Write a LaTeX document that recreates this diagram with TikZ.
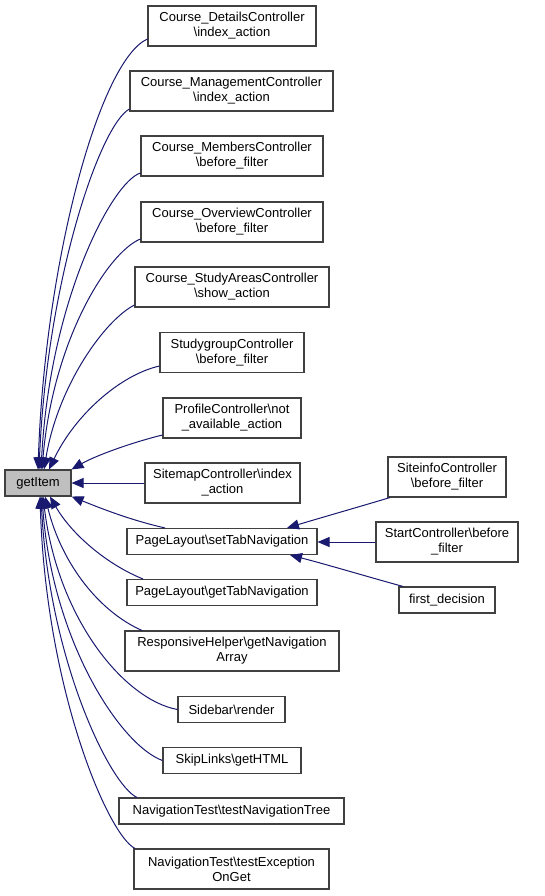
\documentclass[tikz,border=0pt]{standalone}
\usepackage{fontspec}
\setmainfont{Liberation Sans}
\usetikzlibrary{arrows.meta}
\definecolor{edgeblue}{HTML}{191970}
\definecolor{boxline}{HTML}{404040}
\definecolor{hlfill}{HTML}{BFBFBF}
\newcommand{\bs}{\textbackslash}
\begin{document}
\begin{tikzpicture}[x=1pt,y=-1pt,
  fnbox/.style={draw=boxline,line width=1.1pt,rectangle,inner sep=0pt,align=center,
    font=\fontsize{13}{15}\selectfont,fill=white},
  hlbox/.style={fnbox,fill=hlfill},
  edge/.style={draw=edgeblue,line width=1pt,-{Triangle[length=12pt,width=10pt]}}]
\useasboundingbox (0,0) rectangle (544,896);
\fill[white] (0,0) rectangle (544,896);
% nodes
\node[hlbox,minimum width=66pt,minimum height=26pt] (gi) at (38,483) {getItem};
\node[fnbox,minimum width=168pt,minimum height=40pt] (d1) at (232,26) {Course\_DetailsController\\\bs index\_action};
\node[fnbox,minimum width=203pt,minimum height=40pt] (d2) at (231.5,91) {Course\_ManagementController\\\bs index\_action};
\node[fnbox,minimum width=182pt,minimum height=40pt] (d3) at (232,156) {Course\_MembersController\\\bs before\_filter};
\node[fnbox,minimum width=182pt,minimum height=40pt] (d4) at (232,222) {Course\_OverviewController\\\bs before\_filter};
\node[fnbox,minimum width=194pt,minimum height=40pt] (d5) at (232,287) {Course\_StudyAreasController\\\bs show\_action};
\node[fnbox,minimum width=144pt,minimum height=40pt] (d6) at (232,352.5) {StudygroupController\\\bs before\_filter};
\node[fnbox,minimum width=138pt,minimum height=40pt] (d7) at (232,418) {ProfileController\bs not\\\_available\_action};
\node[fnbox,minimum width=155pt,minimum height=40pt] (d8) at (222.5,483) {SitemapController\bs index\\\_action};
\node[fnbox,minimum width=190pt,minimum height=26pt] (d9) at (222,541.5) {PageLayout\bs setTabNavigation};
\node[fnbox,minimum width=190pt,minimum height=26pt] (d10) at (222,592.5) {PageLayout\bs getTabNavigation};
\node[fnbox,minimum width=214pt,minimum height=40pt] (d11) at (232,651) {ResponsiveHelper\bs getNavigation\\Array};
\node[fnbox,minimum width=107pt,minimum height=26pt] (d12) at (231.5,709.5) {Sidebar\bs render};
\node[fnbox,minimum width=138pt,minimum height=26pt] (d13) at (232,760.5) {SkipLinks\bs getHTML};
\node[fnbox,minimum width=225pt,minimum height=26pt] (d14) at (231.5,811) {NavigationTest\bs testNavigationTree};
\node[fnbox,minimum width=195pt,minimum height=40pt] (d15) at (231.5,869) {NavigationTest\bs testException\\OnGet};
\node[fnbox,minimum width=118pt,minimum height=40pt] (s1) at (447,477) {SiteinfoController\\\bs before\_filter};
\node[fnbox,minimum width=142pt,minimum height=40pt] (s2) at (447,542) {StartController\bs before\\\_filter};
\node[fnbox,minimum width=96pt,minimum height=26pt] (s3) at (447,600) {first\_decision};
% edges to getItem (top)
\draw[edge] (d1.west |- 0,39) .. controls (100,60) and (45,260) .. (gi.north -| 38,0);
\draw[edge] (d2.west |- 0,109) .. controls (100,125) and (47,280) .. (gi.north -| 39,0);
\draw[edge] (d3.west |- 0,173) .. controls (112,182) and (50,300) .. (gi.north -| 41,0);
\draw[edge] (d4.west |- 0,239) .. controls (108,252) and (53,340) .. (gi.north -| 42,0);
\draw[edge] (d5.west |- 0,305) .. controls (105,320) and (58,385) .. (gi.north -| 44,0);
\draw[edge] (d6.west |- 0,366) .. controls (120,375) and (75,415) .. (gi.north -| 49,0);
\draw[edge] (d7.west |- 0,435) .. controls (130,443) and (95,456) .. (gi.north east);
\draw[edge] (d8.west) -- (gi.east |- d8.west);
% edges to getItem (bottom)
\draw[edge] (d9.north west -| 165,0) .. controls (130,520) and (100,508) .. (gi.south east);
\draw[edge] (d10.north west -| 143,0) .. controls (108,565) and (72,535) .. (gi.south -| 50,0);
\draw[edge] (d11.north west -| 142,0) .. controls (100,612) and (62,565) .. (gi.south -| 45,0);
\draw[edge] (d12.west) .. controls (125,700) and (58,620) .. (gi.south -| 43,0);
\draw[edge] (d13.west) .. controls (120,745) and (52,640) .. (gi.south -| 42,0);
\draw[edge] (d14.north west -| 137,0) .. controls (110,785) and (49,660) .. (gi.south -| 41,0);
\draw[edge] (d15.north west -| 135,0) .. controls (108,835) and (46,690) .. (gi.south -| 40,0);
% edges to setTabNavigation
\draw[edge] (s1.south west -| 390,0) .. controls (355,508) and (320,518) .. (d9.north -| 287,0);
\draw[edge] (s2.west) -- (d9.east |- s2.west);
\draw[edge] (s3.north west -| 403,0) .. controls (365,576) and (325,564) .. (d9.south -| 290,0);
\end{tikzpicture}
\end{document}
